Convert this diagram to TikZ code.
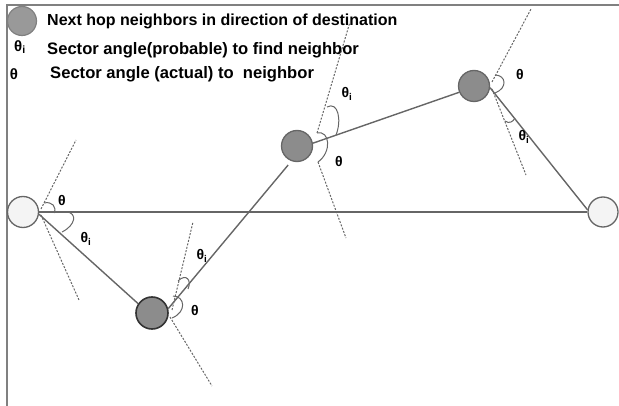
\documentclass[tikz,border=0pt]{standalone}
\usepackage{fontspec}
\setmainfont{Liberation Sans}
\usetikzlibrary{calc}
\definecolor{edgegray}{HTML}{666666}
\definecolor{nodegray}{HTML}{8C8C8C}
\definecolor{legendgray}{HTML}{999999}
\definecolor{whitefill}{HTML}{F4F4F4}
\definecolor{framegray}{HTML}{808080}
\tikzset{
  endnode/.style={circle, draw=edgegray, line width=1.3pt, fill=whitefill, minimum size=31pt, inner sep=0pt},
  hopnode/.style={circle, draw=edgegray, line width=1.3pt, fill=nodegray, minimum size=31pt, inner sep=0pt},
  hopdark/.style={circle, draw=black!80, line width=1.6pt, fill=nodegray, minimum size=32pt, inner sep=0pt},
  link/.style={draw=edgegray, line width=1.4pt},
  sector/.style={draw=edgegray, line width=1pt, dash pattern=on 2pt off 1.5pt},
  anglearc/.style={draw=edgegray, line width=1pt},
  lbl/.style={font=\fontsize{14}{16}\selectfont\bfseries, inner sep=0pt},
  legendtxt/.style={font=\fontsize{16}{18}\selectfont\bfseries, anchor=west, inner sep=0pt},
}
\begin{document}
\begin{tikzpicture}[x=1pt, y=-1pt]
\useasboundingbox (0,0) rectangle (619,406);
% frame
\draw[framegray, line width=2pt] (7,406) -- (7,5) -- (619,5);
% legend
\node[circle, draw=framegray, line width=1.2pt, fill=legendgray, minimum size=29pt, inner sep=0pt] (leg) at (22,21) {};
\node[legendtxt] (t1) at (47,21) {Next hop neighbors in direction of destination};
\node[lbl, font=\fontsize{15}{17}\selectfont\bfseries] (s1) at (20,47) {θ\textsubscript{i}};
\node[legendtxt, font=\fontsize{16.6}{18}\selectfont\bfseries] (t2) at (47,50) {Sector angle(probable) to find neighbor};
\node[lbl, font=\fontsize{15}{17}\selectfont\bfseries] (s2) at (14,74) {θ};
\node[legendtxt, font=\fontsize{16.6}{18}\selectfont\bfseries] (t3) at (50,74) {Sector angle (actual) to\ \ neighbor};
% nodes
\node[endnode] (src) at (23,212) {};
\node[endnode, minimum size=30pt] (dst) at (603,212) {};
\node[hopdark] (A) at (152,313) {};
\node[hopnode] (B) at (297,146) {};
\node[hopnode] (C) at (474,86) {};
% links
\draw[link] (src.0) -- (dst.180);
\draw[link] (src.-8) -- (A.146);
\draw[link] (A.15) -- ($(B.center)+(-115:21pt)$);
\draw[link] (B.10) -- (C.203);
\draw[link] (C.-6) -- (dst.172);
% sector boundaries
\draw[sector] (41,209) -- (76,140);
\draw[sector] (41,215) -- (79,300);
\draw[sector] (172,310) -- (193,222);
\draw[sector] (170,317) -- (212,386);
\draw[sector] (317,133) -- (350,22);
\draw[sector] (318,162) -- (346,238);
\draw[sector] (492,82) -- (531,9);
\draw[sector] (492,89) -- (526,175);
% angle arcs
\draw[anglearc] (44,203) .. controls (52,201) and (57,207) .. (54,213);
\draw[anglearc] (67,212) .. controls (77,213) and (76,225) .. (62,232);
\draw[anglearc] (178,281) .. controls (186,273) and (192,280) .. (188,289);
\draw[anglearc] (173,296) .. controls (185,296) and (187,312) .. (172,318);
\draw[anglearc] (327,107) .. controls (338,101) and (342,120) .. (336,135);
\draw[anglearc] (317,133) .. controls (330,130) and (332,152) .. (318,162);
\draw[anglearc] (495,75) .. controls (506,75) and (508,88) .. (495,93);
\draw[anglearc] (505,121) .. controls (509,124) and (513,122) .. (515,118);
% angle labels
\node[lbl] (la1) at (62,201) {θ};
\node[lbl] (la2) at (86,239) {θ\textsubscript{i}};
\node[lbl] (la3) at (202,256) {θ\textsubscript{i}};
\node[lbl] (la4) at (195,310) {θ};
\node[lbl] (la5) at (347,94) {θ\textsubscript{i}};
\node[lbl] (la6) at (339,162) {θ};
\node[lbl] (la7) at (520,75) {θ};
\node[lbl] (la8) at (524,137) {θ\textsubscript{i}};
\end{tikzpicture}
\end{document}
